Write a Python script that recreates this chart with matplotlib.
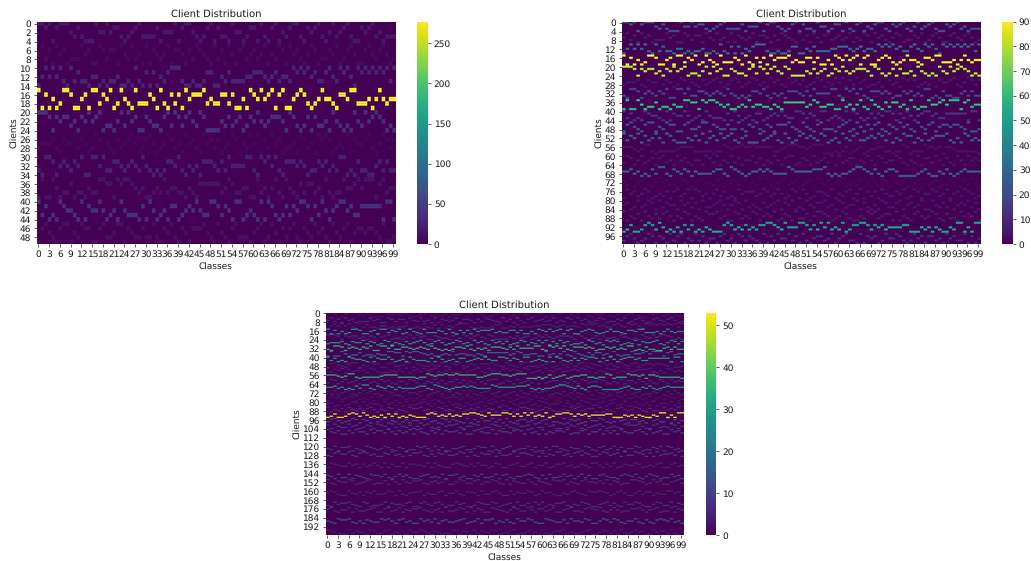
import numpy as np
import matplotlib
matplotlib.use("Agg")
import matplotlib.pyplot as plt

plt.rcParams["text.hinting"] = "none"
plt.rcParams["text.hinting_factor"] = 1

# For each block of five clients: which of the five holds each class.
r000 = "0010410002 3134440220 2113432103 3331422204 1002343104 1334022431 1403410423 1003412103 4203210344 1210324333"
r005 = "2031402143 3302144013 1140230324 0412320411 2413012340 3140241032 1320423014 0213420143 3120431024 4102310243"
r010 = "4202020340 3133422434 3324434034 1414231000 3443443114 4231333322 1112321322 3010102133 1023010240 1010101030"
r015 = "0414243001 4421400312 0430234033 3124034131 4021110323 3113144240 1202104104 4210134320 2234112003 3324202322"
r020 = "0001412113 2412021043 3420302144 1233410301 3102301444 4231321431 2023211124 0134314133 2402343402 3021012434"
r025 = "3222134122 0312430142 3413210243 1024320132 4021340213 1432014230 2041302143 3240132401 0143230412 2103420131"
r030 = "3400142123 1204400203 3112321230 2343431120 3423241112 3130222200 3401020341 1121243312 1323004341 3344213133"
r035 = "4044024331 4334233001 1401001232 4432303223 3423411111 1320133224 4032420340 2341311324 0343302210 2000410322"
r040 = "0314340122 3404122024 3240233341 4024324114 3212023300 1312400432 3404013431 3120014130 2421002133 1111114004"
r045 = "4102341004 2301144103 3200412331 3303412034 1241110234 0234103334 2104302413 1034123021 3402310421 1211230443"
r050 = "0312041320 2401344423 1304213021 0342144403 2103402431 0212301432 4023103321 2013042301 1423032111 0342401323"
r055 = "1112320034 3333321111 3333343301 2110110111 1133210001 1210004443 4314321432 2113343301 4333011214 1123333334"
r060 = "3014203214 1032402134 2240130423 0314220314 2302410043 1240321304 0321142302 4013220134 2304113024 1340240212"
r065 = "2213243413 0034123124 2333321134 0123432212 1233330122 2221110343 4332100123 1342112444 4432134423 1343212222"
r070 = "1304210342 0213340124 4102231043 2130142304 0342103214 3214023102 1043231420 2301402314 0214032143 3120413024"
r075 = "4021320143 2314103204 0132420314 3402111320 1320243014 0243112304 2310420413 1402331204 3014220132 0421301243"
r080 = "2143032014 0312240213 1403321024 2014032341 3210412043 4023110324 0132204134 2401331042 1320440231 3042120314"
r085 = "0423140231 3102423014 2340110324 4013230142 1204312403 3142001243 2013442301 0321140423 4102320134 1334021204"
r090 = "4314431013 0243424131 4342344410 1323132311 0012302220 0131302032 3043110013 1213222211 4442324234 4230042400"
r095 = "3102432014 1240310423 0314224103 2401312340 4130220314 0342113204 2103340412 1430220134 3021411324 0213304142"
r100 = "1402330214 3124012403 0231424103 4302110342 2014330124 1340221403 3021440312 0413210243 2340111024 4103230142"
r105 = "0231441302 2403113024 1320402341 3041221304 4102330412 2310140324 0423112043 3104220413 1402331024 0321440213"
r120 = "2304110423 4012320134 1243301024 0314422103 3201140342 1043220314 4130023412 2401341032 0314220143 3120401324"
r125 = "3410220341 0132441203 2403110342 4120332014 0341220413 3204112304 1423003241 0312442013 2140330124 1403221304"
r135 = "4012330214 1320240413 3041122304 0234410123 1302243014 4210331042 2043110324 3124002413 0431220143 2310441032"
r145 = "1240330412 3401120342 0213442103 2304110324 4120332041 0342210134 1403320214 2031441023 3410120342 0124330214"
r150 = "0341220143 2104331402 4023110342 1320442013 3104220134 0412330241 2340110423 4102231304 1243300124 3021442103"
r160 = "2013440231 4120332014 0342110423 3104220341 1240331024 4031220143 0213442310 2340110124 3102442031 1423300214"
r170 = "3402110234 0143320412 2310441023 1024330214 4301220143 2140331402 0423110342 3012442103 1340220134 4201330412"
r175 = "1034220413 3210441032 0423110234 2140332014 0312440123 4201330241 1320442103 3410120342 0243311024 2104330412"
r185 = "2340110342 4123301024 1032440213 0421332104 3204110423 1340220134 4012331402 2301442013 0134220341 3410120324"
r195 = "0123440312 2401331042 3140220134 1243300412 4031220143 2104331024 0342110423 3210442013 1403320214 4021130342"

pattern_c1 = [r000, r005, r010, r015, r020, r025, r030, r035, r040, r045]
peak_c1 = [18, 8, 28, 277, 36, 6, 24, 14, 36, 11]
start_c1 = [0, 5, 10, 15, 20, 25, 30, 35, 40, 45]

pattern_c2 = [r000, r005, r010, r015, r020, r025, r030, r035, r040, r045,
              r050, r055, r060, r065, r070, r075, r080, r085, r090, r095]
peak_c2 = [22, 6, 28, 90, 80, 5, 18, 58, 12, 21, 24, 4, 5, 25, 2, 5, 5, 6, 48, 10]
start_c2 = [0, 5, 10, 15, 20, 25, 30, 35, 40, 45, 50, 55, 60, 65, 70, 75, 80, 85, 90, 95]

pattern_c3 = [r000, r005, r010, r015, r020, r025, r030, r035, r040, r045,
              r050, r055, r060, r065, r070, r075, r080, r085, r090, r095,
              r100, r105, r120, r125, r135, r145, r150, r160, r170, r175, r185, r195]
peak_c3 = [3, 7, 5, 28, 7, 28, 35, 18, 30, 5, 5, 35, 7, 30, 5, 3, 4, 7, 53, 11,
           9, 11, 9, 10, 6, 11, 7, 6, 8, 7, 15, 4]
start_c3 = [0, 5, 10, 15, 20, 25, 30, 35, 40, 45, 50, 55, 60, 65, 70, 75, 80, 85, 90, 95,
            100, 105, 120, 125, 135, 145, 150, 160, 170, 175, 185, 195]

vmax_values = [277, 90, 53]
client_counts = [50, 100, 200]
client_steps = [2, 4, 8]
colorbar_ticks = [list(range(0, 251, 50)), list(range(0, 91, 10)), list(range(0, 51, 10))]
n_classes = 100
class_ticks = list(range(0, 100, 3))


def build(rows, starts, peaks, patterns):
    m = np.zeros((rows, n_classes))
    for s, p, text in zip(starts, peaks, patterns):
        digits = text.replace(" ", "")
        for c, ch in enumerate(digits):
            m[s + int(ch), c] = p
    return m


W, H = 1031, 561
fig = plt.figure(figsize=(W / 100, H / 100), dpi=100)


def px_axes(x0, x1, y0, y1):
    return fig.add_axes([x0 / W, 1 - y1 / H, (x1 - x0) / W, (y1 - y0) / H])


boxes = [(36.7, 395, 21.7, 244, 417, 428),
         (621.7, 980, 21.7, 244, 1002, 1013),
         (325.5, 683, 312.7, 535, 705.5, 716.3)]
matrices = [build(client_counts[0], start_c1, peak_c1, pattern_c1),
            build(client_counts[1], start_c2, peak_c2, pattern_c2),
            build(client_counts[2], start_c3, peak_c3, pattern_c3)]
TICK_FS = 6.5
LABEL_FS = 6.2
TITLE_FS = 7.0
INK = "#1a1a1a"

for i, (box, m) in enumerate(zip(boxes, matrices)):
    ax = px_axes(box[0], box[1], box[2], box[3])
    # Upsampled so the resampling filter softens cell edges the way the reference does.
    fine = np.repeat(np.repeat(m, 4, axis=0), 4, axis=1)
    img = ax.imshow(fine, cmap="viridis", vmin=0, vmax=vmax_values[i], aspect="auto",
                    extent=(0, n_classes, client_counts[i], 0),
                    interpolation="lanczos", interpolation_stage="rgba", resample=True)
    for s in ax.spines.values():
        s.set_visible(False)
    ax.set_xticks(np.array(class_ticks) + 0.5)
    ax.set_xticklabels([str(t) for t in class_ticks], fontsize=TICK_FS, rotation=0)
    yt = list(range(0, client_counts[i], client_steps[i]))
    ax.set_yticks(np.array(yt) + 0.5)
    ax.set_yticklabels([str(t) for t in yt], fontsize=TICK_FS, rotation=0)
    ax.tick_params(length=2.0, width=0.5, pad=2.2, colors=INK)
    ax.set_xlabel("Classes", fontsize=LABEL_FS, labelpad=2.3, color=INK)
    ax.set_ylabel("Clients", fontsize=LABEL_FS, labelpad=1.2, color=INK)
    ax.set_title("Client Distribution", fontsize=TITLE_FS, pad=3.2, color=INK)

    cax = px_axes(box[4], box[5], box[2], box[3])
    cb = fig.colorbar(img, cax=cax)
    cb.outline.set_visible(False)
    cb.set_ticks(colorbar_ticks[i])
    cb.ax.tick_params(labelsize=TICK_FS, length=2.0, width=0.5, pad=2.2, colors=INK)

fig.savefig("out.png", dpi=100)
